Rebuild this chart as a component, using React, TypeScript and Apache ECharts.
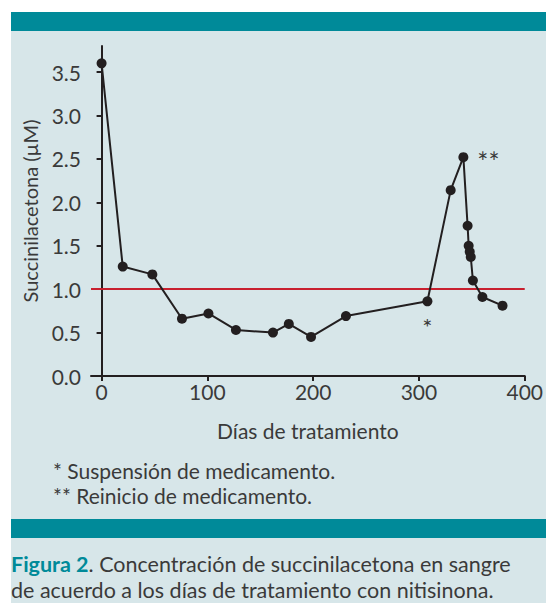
import React, { useEffect, useRef } from "react";
import * as echarts from "echarts";

const days = [0, 20, 48, 76, 101, 127, 162, 177, 198, 231, 308, 330, 342, 346, 347, 348, 349, 351, 360, 379];
const values = [3.6, 1.26, 1.17, 0.66, 0.72, 0.53, 0.5, 0.6, 0.45, 0.69, 0.86, 2.14, 2.52, 1.73, 1.5, 1.43, 1.37, 1.1, 0.91, 0.81];
const yTicks = [0, 0.5, 1.0, 1.5, 2.0, 2.5, 3.0, 3.5];
const xTicks = [0, 100, 200, 300, 400];
const threshold = 1.0;
const suspensionIndex = 10;
const restartIndex = 12;
const xTitle = "Días de tratamiento";
const yTitle = "Succinilacetona (µM)";
const notes = ["* Suspensión de medicamento.", "** Reinicio de medicamento."];
const captionHead = "Figura 2";
const captionLine1 = ". Concentración de succinilacetona en sangre";
const captionLine2 = "de acuerdo a los días de tratamiento con nitisinona.";

const FONT = "Lato";
const TEAL = "#008a99";
const PANEL = "#d7e6e9";
const TEXT = "#3a3a3a";
const AXIS = "#231f20";

export default function App() {
  const ref = useRef<HTMLDivElement>(null);
  useEffect(() => {
    document.body.style.margin = "0";
    const chart = echarts.init(ref.current!, null, { renderer: "svg" });
    const data = days.map((d, i) => {
      const item: any = { value: [d, values[i]] };
      if (i === suspensionIndex) {
        item.label = { show: true, formatter: "*", position: "bottom", distance: 8, fontSize: 24, color: TEXT, fontFamily: FONT };
      }
      if (i === restartIndex) {
        item.label = { show: true, formatter: "**", position: "right", distance: 9, fontSize: 26, color: TEXT, fontFamily: FONT, offset: [0, 5] };
      }
      return item;
    });
    chart.setOption({
      animation: false,
      backgroundColor: "#ffffff",
      graphic: [
        { type: "rect", z: -10, shape: { x: 11, y: 12, width: 535, height: 591 }, style: { fill: PANEL } },
        { type: "rect", z: -9, shape: { x: 11, y: 12, width: 535, height: 19 }, style: { fill: TEAL } },
        { type: "rect", z: -9, shape: { x: 11, y: 519, width: 535, height: 19 }, style: { fill: TEAL } },
        { type: "text", x: 53, y: 470, style: { text: notes[0], font: `21px ${FONT}`, fill: TEXT, verticalAlign: "middle" } },
        { type: "text", x: 53, y: 495, style: { text: notes[1], font: `21px ${FONT}`, fill: TEXT, verticalAlign: "middle" } },
        {
          type: "text", x: 11, y: 564,
          style: {
            text: `{h|${captionHead}}{t|${captionLine1}}`,
            verticalAlign: "middle",
            rich: {
              h: { font: `bold 21.5px ${FONT}`, fill: TEAL, color: TEAL, lineHeight: 22 },
              t: { font: `21.5px ${FONT}`, fill: TEXT, color: TEXT, lineHeight: 22 },
            },
          },
        },
        { type: "text", x: 11, y: 590, style: { text: captionLine2, font: `21.5px ${FONT}`, lineHeight: 22, fill: TEXT, verticalAlign: "middle" } },
      ],
      grid: { left: 91, right: 16, top: 46, bottom: 227, containLabel: false },
      xAxis: {
        type: "value",
        min: -10,
        max: 400,
        name: xTitle,
        nameLocation: "middle",
        nameGap: 44,
        nameTextStyle: { fontFamily: FONT, fontSize: 21, color: TEXT },
        splitLine: { show: false },
        axisLine: { lineStyle: { color: AXIS, width: 2 } },
        axisTick: { customValues: xTicks, length: 5, lineStyle: { color: AXIS, width: 2 } },
        axisLabel: { customValues: xTicks, fontFamily: FONT, fontSize: 21, color: TEXT, margin: 5 },
      },
      yAxis: {
        type: "value",
        min: 0,
        max: 3.8,
        name: yTitle,
        nameLocation: "middle",
        nameGap: 51,
        nameTextStyle: { fontFamily: FONT, fontSize: 20, color: TEXT },
        splitLine: { show: false },
        axisLine: { lineStyle: { color: AXIS, width: 2 } },
        axisTick: { customValues: yTicks, length: 5, lineStyle: { color: AXIS, width: 2 } },
        axisLabel: {
          customValues: yTicks,
          fontFamily: FONT,
          fontSize: 21,
          color: TEXT,
          margin: 10,
          formatter: (v: number) => v.toFixed(1),
        },
      },
      series: [
        {
          type: "line",
          data,
          symbol: "circle",
          symbolSize: 10,
          itemStyle: { color: AXIS },
          lineStyle: { color: AXIS, width: 2 },
          z: 3,
          markLine: {
            silent: true,
            symbol: ["none", "none"],
            label: { show: false },
            lineStyle: { color: "#c8202f", width: 2, type: "solid" },
            data: [{ yAxis: threshold }],
            z: 2,
          },
        },
      ],
    });
    return () => chart.dispose();
  }, []);
  return <div ref={ref} style={{ width: 546, height: 603, position: "absolute", left: 0, top: 0 }} />;
}
